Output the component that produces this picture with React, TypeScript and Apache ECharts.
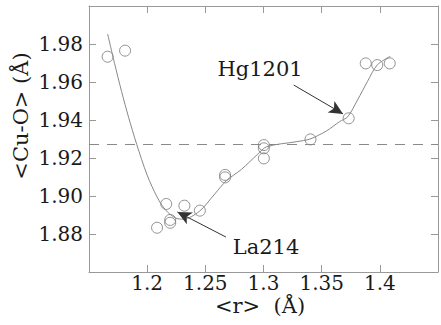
import React, { useEffect, useRef } from "react";
import * as echarts from "echarts";

// Measured points <r> (Å) vs <Cu-O> (Å)
const pointR = [1.166, 1.181, 1.2085, 1.2164, 1.2198, 1.2198, 1.232, 1.2453, 1.267, 1.267, 1.3003, 1.3003, 1.3003, 1.3404, 1.3732, 1.3879, 1.3978, 1.4085];
const pointCuO = [1.9733, 1.9765, 1.8833, 1.8958, 1.8874, 1.8859, 1.8949, 1.8923, 1.9111, 1.9098, 1.9268, 1.9251, 1.9198, 1.9298, 1.9409, 1.9698, 1.9689, 1.9698];

// Guide-to-the-eye curve
const curveR = [1.166, 1.172, 1.178, 1.184, 1.191, 1.2, 1.2085, 1.2156, 1.2241, 1.231, 1.245, 1.258, 1.268, 1.281, 1.295, 1.303, 1.3286, 1.34, 1.354, 1.3653, 1.3724, 1.3808, 1.3893, 1.3978, 1.409];
const curveCuO = [1.9853, 1.9697, 1.955, 1.9415, 1.9272, 1.911, 1.8995, 1.8928, 1.8885, 1.8878, 1.892, 1.901, 1.908, 1.914, 1.922, 1.926, 1.9286, 1.93, 1.9342, 1.9391, 1.9417, 1.9505, 1.9602, 1.969, 1.9735];

const dashedLevel = 1.9274;

// Annotation arrows [startR, startCuO, endR, endCuO]
const hgArrow = [1.326, 1.9584, 1.3684, 1.9432];
const laArrow = [1.2677, 1.8784, 1.226, 1.8916];

const xShownTicks = [1.2, 1.25, 1.3, 1.35, 1.4];
const yShownTicks = [1.88, 1.9, 1.92, 1.94, 1.96, 1.98];

const FONT = "DejaVu Serif";

export default function App() {
  const ref = useRef<HTMLDivElement>(null);
  useEffect(() => {
    if (!ref.current) return;
    const chart = echarts.init(ref.current, null, { renderer: "svg" });
    const axisColor = "#999";
    const xFmt = (v: number) => {
      const r = Math.round(v * 100) / 100;
      return xShownTicks.some((t) => Math.abs(t - r) < 1e-6) ? String(r) : "";
    };
    const yFmt = (v: number) => {
      const r = Math.round(v * 100) / 100;
      return yShownTicks.some((t) => Math.abs(t - r) < 1e-6) ? r.toFixed(2) : "";
    };
    const baseX = {
      type: "value",
      min: 1.15,
      max: 1.45,
      interval: 0.05,
      splitLine: { show: false },
      axisLine: { show: true, lineStyle: { color: axisColor, width: 1 } },
      axisTick: { show: true, inside: true, length: 7, lineStyle: { color: axisColor } },
    };
    const baseY = {
      type: "value",
      min: 1.86,
      max: 2.0,
      interval: 0.02,
      splitLine: { show: false },
      axisLine: { show: true, lineStyle: { color: axisColor, width: 1 } },
      axisTick: { show: true, inside: true, length: 7, lineStyle: { color: axisColor } },
    };
    chart.setOption({
      animation: false,
      backgroundColor: "#fff",
      textStyle: { fontFamily: FONT },
      grid: { left: 89, top: 6, width: 354, height: 266 },
      xAxis: [
        {
          ...baseX,
          position: "bottom",
          axisLabel: { formatter: xFmt, color: "#1a1a1a", fontFamily: FONT, fontSize: 20, lineHeight: 20, margin: 1 },
        },
        { ...baseX, position: "top", axisLabel: { show: false } },
      ],
      yAxis: [
        {
          ...baseY,
          position: "left",
          axisLabel: { formatter: yFmt, color: "#1a1a1a", fontFamily: FONT, fontSize: 20, margin: 6 },
        },
        { ...baseY, position: "right", axisLabel: { show: false } },
      ],
      series: [
        {
          type: "line",
          data: curveR.map((r, i) => [r, curveCuO[i]]),
          smooth: 0.3,
          showSymbol: false,
          symbol: "none",
          lineStyle: { color: "#888", width: 1 },
          markLine: {
            silent: true,
            precision: 5,
            symbol: ["none", "none"],
            label: { show: false },
            lineStyle: { color: "#888", width: 1, type: [10, 8] },
            data: [{ yAxis: dashedLevel }],
          },
        },
        {
          type: "scatter",
          data: pointR.map((r, i) => [r, pointCuO[i]]),
          symbol: "circle",
          symbolSize: 11,
          itemStyle: { color: "none", borderColor: "#777", borderWidth: 1 },
        },
        {
          type: "line",
          data: [],
          markLine: {
            silent: true,
            precision: 5,
            symbol: ["none", "arrow"],
            symbolSize: [10, 14],
            label: { show: false },
            lineStyle: { color: "#333", width: 1, type: "solid" },
            data: [
              [{ coord: [hgArrow[0], hgArrow[1]] }, { coord: [hgArrow[2], hgArrow[3]] }],
              [{ coord: [laArrow[0], laArrow[1]] }, { coord: [laArrow[2], laArrow[3]] }],
            ],
          },
        },
      ],
      graphic: [
        {
          type: "text",
          x: 21,
          y: 116,
          rotation: Math.PI / 2,
          style: { text: "<Cu-O> (Å)", align: "center", verticalAlign: "middle", font: `21px ${FONT}`, fill: "#1a1a1a" },
        },
        {
          type: "text",
          x: 260,
          y: 306,
          style: { text: "<r>  (Å)", align: "center", verticalAlign: "middle", font: `21px ${FONT}`, lineHeight: 21, fill: "#1a1a1a" },
        },
        {
          type: "text",
          x: 260,
          y: 69,
          style: { text: "Hg1201", align: "center", verticalAlign: "middle", font: `21px ${FONT}`, fill: "#1a1a1a" },
        },
        {
          type: "text",
          x: 266,
          y: 247,
          style: { text: "La214", align: "center", verticalAlign: "middle", font: `21px ${FONT}`, fill: "#1a1a1a" },
        },
      ],
    });
    return () => chart.dispose();
  }, []);
  return (
    <div
      ref={ref}
      style={{ position: "fixed", left: 0, top: 0, width: 441, height: 325 }}
    />
  );
}
